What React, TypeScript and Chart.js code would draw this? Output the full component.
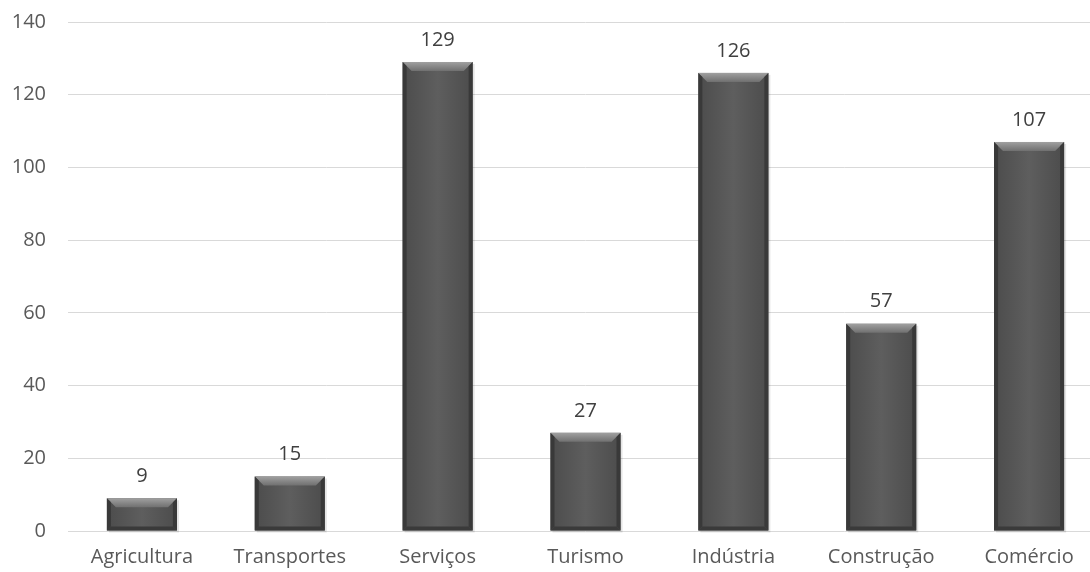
import React, { useEffect, useRef } from "react";
import { Chart, registerables } from "chart.js";

Chart.register(...registerables);

const categories = ["Agricultura", "Transportes", "Serviços", "Turismo", "Indústria", "Construção", "Comércio"];
const values = [9, 15, 129, 27, 126, 57, 107];
const yTicks = [0, 20, 40, 60, 80, 100, 120, 140];

const FONT = "'Open Sans', sans-serif";
const FSIZE = 20;

const bevelPlugin = {
  id: "bevel",
  afterDatasetsDraw(chart: any) {
    const ctx = chart.ctx;
    const meta = chart.getDatasetMeta(0);
    meta.data.forEach((bar: any) => {
      const p = bar.getProps(["x", "y", "base", "width"], true);
      const l = p.x - p.width / 2;
      const r = p.x + p.width / 2;
      const t = p.y;
      const b = p.base;
      const h = b - t;
      const bv = Math.min(9, h / 2);
      ctx.save();
      ctx.fillStyle = "rgba(0,0,0,0.10)";
      ctx.fillRect(l + 2, t + 2, r - l, h);
      const g = ctx.createLinearGradient(l, 0, r, 0);
      g.addColorStop(0, "#4c4c4c");
      g.addColorStop(0.5, "#5e5e5e");
      g.addColorStop(1, "#4c4c4c");
      ctx.fillStyle = g;
      ctx.fillRect(l, t, r - l, h);
      const gt = ctx.createLinearGradient(0, t, 0, t + bv);
      gt.addColorStop(0, "#a0a0a0");
      gt.addColorStop(1, "#707070");
      ctx.fillStyle = gt;
      ctx.beginPath();
      ctx.moveTo(l, t);
      ctx.lineTo(r, t);
      ctx.lineTo(r - bv, t + bv);
      ctx.lineTo(l + bv, t + bv);
      ctx.closePath();
      ctx.fill();
      const sb = bv * 0.45;
      ctx.fillStyle = "rgba(55,55,55,0.9)";
      ctx.beginPath();
      ctx.moveTo(l, t);
      ctx.lineTo(l + sb, t + sb);
      ctx.lineTo(l + sb, b - sb);
      ctx.lineTo(l, b);
      ctx.closePath();
      ctx.fill();
      ctx.beginPath();
      ctx.moveTo(r, t);
      ctx.lineTo(r - sb, t + sb);
      ctx.lineTo(r - sb, b - sb);
      ctx.lineTo(r, b);
      ctx.closePath();
      ctx.fill();
      ctx.fillStyle = "#3a3a3a";
      ctx.beginPath();
      ctx.moveTo(l, b);
      ctx.lineTo(r, b);
      ctx.lineTo(r - sb, b - sb);
      ctx.lineTo(l + sb, b - sb);
      ctx.closePath();
      ctx.fill();
      ctx.restore();
    });
  },
};

const labelPlugin = {
  id: "valueLabels",
  afterDatasetsDraw(chart: any) {
    const ctx = chart.ctx;
    const meta = chart.getDatasetMeta(0);
    ctx.save();
    ctx.font = `${FSIZE}px ${FONT}`;
    ctx.fillStyle = "#404040";
    ctx.textAlign = "center";
    ctx.textBaseline = "middle";
    meta.data.forEach((bar: any, i: number) => {
      ctx.fillText(String(values[i]), bar.x, bar.y - 22);
    });
    ctx.restore();
  },
};

export default function App() {
  const ref = useRef<HTMLCanvasElement>(null);
  useEffect(() => {
    document.body.style.overflow = "hidden";
    const chart = new Chart(ref.current!, {
      type: "bar",
      data: {
        labels: categories,
        datasets: [
          {
            data: values,
            backgroundColor: "rgba(0,0,0,0)",
            borderWidth: 0,
            barPercentage: 0.474,
            categoryPercentage: 1,
          },
        ],
      },
      options: {
        animation: false,
        responsive: false,
        layout: { padding: { top: 22, right: 7, left: 0, bottom: 0 } },
        plugins: { legend: { display: false }, tooltip: { enabled: false } },
        scales: {
          x: {
            grid: { display: false },
            border: { display: false },
            ticks: { color: "#595959", font: { family: FONT, size: FSIZE }, padding: 6 },
            afterFit(scale: any) {
              scale.height = 41;
              scale.paddingLeft = 0;
              scale.paddingRight = 0;
            },
          },
          y: {
            min: 0,
            max: 140,
            afterBuildTicks(scale: any) {
              scale.ticks = yTicks.map((v) => ({ value: v }));
            },
            grid: { color: "#d9d9d9", lineWidth: 1, drawTicks: false },
            border: { display: false },
            ticks: { color: "#595959", font: { family: FONT, size: FSIZE }, padding: 22 },
            afterFit(scale: any) {
              scale.width = 68;
              scale.paddingTop = 0;
              scale.paddingBottom = 0;
            },
          },
        },
      },
      plugins: [bevelPlugin, labelPlugin],
    });
    return () => chart.destroy();
  }, []);
  return (
    <div style={{ position: "absolute", left: 0, top: 0, width: 1110, height: 572 }}>
      <canvas ref={ref} width={1110} height={572} />
    </div>
  );
}
